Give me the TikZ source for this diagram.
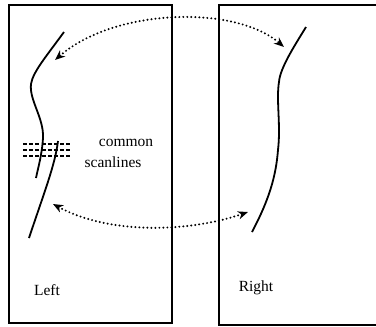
\documentclass[tikz,border=0pt]{standalone}
\usepackage{fontspec}
\setmainfont{Liberation Serif}
\usetikzlibrary{arrows.meta}
\begin{document}
\begin{tikzpicture}[x=1pt,y=-1pt,
  frame/.style={line width=1.8pt},
  edgecurve/.style={line width=1.8pt},
  scan/.style={line width=1.6pt, dash pattern=on 4pt off 2.2pt},
  corr/.style={line width=2.2pt, line cap=round, dash pattern=on 0pt off 4pt,
     {Stealth[length=10pt,width=8pt,inset=3pt,line cap=butt]}-{Stealth[length=10pt,width=8pt,inset=3pt,line cap=butt]}},
  lbl/.style={font=\fontsize{15.5}{16}\selectfont, inner sep=0pt}]
\useasboundingbox (0,0) rectangle (376,327);
\begin{scope}
\clip (0,0) rectangle (376,327);
% boxes
\draw[frame] (9,5) rectangle (172,323);
\draw[frame] (380,5) -- (219,5) -- (219,325) -- (380,325);
% left curve
\draw[edgecurve] (64,32) .. controls (45,58) and (33,72) .. (31,84)
  .. controls (29,100) and (44,118) .. (43,138)
  .. controls (42,155) and (38,168) .. (36,178);
\draw[edgecurve] (58,141) .. controls (55,165) and (45,190) .. (29,238);
% right curve
\draw[edgecurve] (306,27) .. controls (295,45) and (280,68) .. (279,82)
  .. controls (276,100) and (281,125) .. (278,150)
  .. controls (276,175) and (270,198) .. (252,232);
% scanlines
\draw[scan] (23,144) -- (71,144);
\draw[scan] (23,150) -- (71,150);
\draw[scan] (23,156) -- (71,156);
% correspondence arrows
\coordinate (tl) at (55,60);
\coordinate (tr) at (284,47);
\coordinate (bl) at (53,204);
\coordinate (br) at (248,212);
\draw[corr] (tl) .. controls (115,8) and (235,5) .. (tr);
\draw[corr] (bl) .. controls (110,235) and (190,232) .. (br);
\end{scope}
% labels
\node[lbl] (common) at (126,143) {common};
\node[lbl] (scan) at (113,162) {scanlines};
\node[lbl] (left) at (47,290) {Left};
\node[lbl] (right) at (256,288) {Right};
\end{tikzpicture}
\end{document}
